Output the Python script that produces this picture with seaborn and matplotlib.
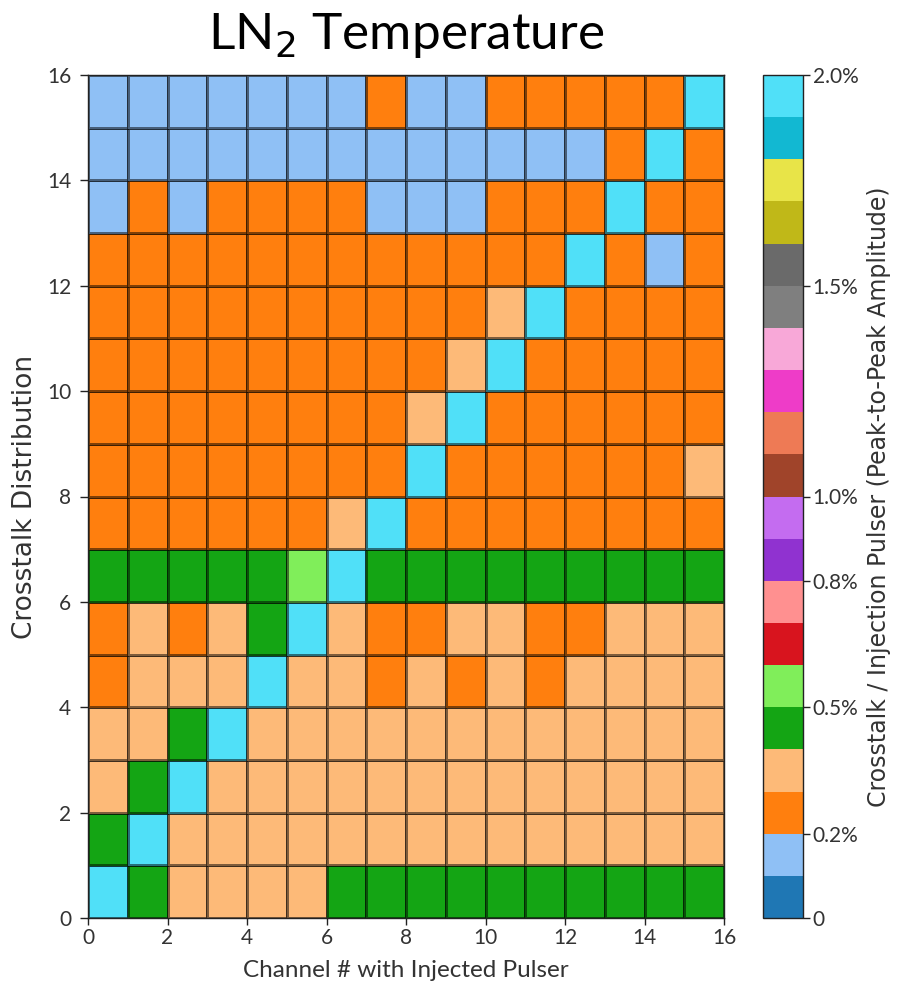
import numpy as np
import pandas as pd
import matplotlib
matplotlib.use("Agg")
import matplotlib.pyplot as plt
from matplotlib.colors import ListedColormap
import seaborn as sns

# Injected channel (x) and crosstalk distribution row (y, 0 at the bottom)
channels = list(range(16))
rows = list(range(16))

# Crosstalk / injection pulser amplitude in percent, one list per distribution row
crosstalk_y00 = [1.95, 0.45, 0.35, 0.35, 0.35, 0.35, 0.45, 0.45, 0.45, 0.45, 0.45, 0.45, 0.45, 0.45, 0.45, 0.45]
crosstalk_y01 = [0.45, 1.95, 0.35, 0.35, 0.35, 0.35, 0.35, 0.35, 0.35, 0.35, 0.35, 0.35, 0.35, 0.35, 0.35, 0.35]
crosstalk_y02 = [0.35, 0.45, 1.95, 0.35, 0.35, 0.35, 0.35, 0.35, 0.35, 0.35, 0.35, 0.35, 0.35, 0.35, 0.35, 0.35]
crosstalk_y03 = [0.35, 0.35, 0.45, 1.95, 0.35, 0.35, 0.35, 0.35, 0.35, 0.35, 0.35, 0.35, 0.35, 0.35, 0.35, 0.35]
crosstalk_y04 = [0.25, 0.35, 0.35, 0.35, 1.95, 0.35, 0.35, 0.25, 0.35, 0.25, 0.35, 0.25, 0.35, 0.35, 0.35, 0.35]
crosstalk_y05 = [0.25, 0.35, 0.25, 0.35, 0.45, 1.95, 0.35, 0.25, 0.25, 0.35, 0.35, 0.25, 0.25, 0.35, 0.35, 0.35]
crosstalk_y06 = [0.45, 0.45, 0.45, 0.45, 0.45, 0.55, 1.95, 0.45, 0.45, 0.45, 0.45, 0.45, 0.45, 0.45, 0.45, 0.45]
crosstalk_y07 = [0.25, 0.25, 0.25, 0.25, 0.25, 0.25, 0.35, 1.95, 0.25, 0.25, 0.25, 0.25, 0.25, 0.25, 0.25, 0.25]
crosstalk_y08 = [0.25, 0.25, 0.25, 0.25, 0.25, 0.25, 0.25, 0.25, 1.95, 0.25, 0.25, 0.25, 0.25, 0.25, 0.25, 0.35]
crosstalk_y09 = [0.25, 0.25, 0.25, 0.25, 0.25, 0.25, 0.25, 0.25, 0.35, 1.95, 0.25, 0.25, 0.25, 0.25, 0.25, 0.25]
crosstalk_y10 = [0.25, 0.25, 0.25, 0.25, 0.25, 0.25, 0.25, 0.25, 0.25, 0.35, 1.95, 0.25, 0.25, 0.25, 0.25, 0.25]
crosstalk_y11 = [0.25, 0.25, 0.25, 0.25, 0.25, 0.25, 0.25, 0.25, 0.25, 0.25, 0.35, 1.95, 0.25, 0.25, 0.25, 0.25]
crosstalk_y12 = [0.25, 0.25, 0.25, 0.25, 0.25, 0.25, 0.25, 0.25, 0.25, 0.25, 0.25, 0.25, 1.95, 0.25, 0.15, 0.25]
crosstalk_y13 = [0.15, 0.25, 0.15, 0.25, 0.25, 0.25, 0.25, 0.15, 0.15, 0.15, 0.25, 0.25, 0.25, 1.95, 0.25, 0.25]
crosstalk_y14 = [0.15, 0.15, 0.15, 0.15, 0.15, 0.15, 0.15, 0.15, 0.15, 0.15, 0.15, 0.15, 0.15, 0.25, 1.95, 0.25]
crosstalk_y15 = [0.15, 0.15, 0.15, 0.15, 0.15, 0.15, 0.15, 0.25, 0.15, 0.15, 0.25, 0.25, 0.25, 0.25, 0.25, 1.95]

# Colour bar ticks and their labels
cbar_ticks = [0.0, 0.2, 0.5, 0.8, 1.0, 1.5, 2.0]
cbar_ticklabels = ["0", "0.2%", "0.5%", "0.8%", "1.0%", "1.5%", "2.0%"]

# 20-step qualitative palette, one colour per 0.1 % band
band_colors = [
    "#1f77b4", "#8fc0f5", "#ff7f0e", "#fdba78", "#14a514",
    "#80ee5a", "#d8141e", "#ff9090", "#9032d0", "#c46cf0",
    "#a0442a", "#ee7a55", "#ee3cc8", "#f8a8d8", "#7f7f7f",
    "#6a6a6a", "#c0b818", "#e8e448", "#12b8d2", "#50e0f8",
]

matrix = np.array([
    crosstalk_y00, crosstalk_y01, crosstalk_y02, crosstalk_y03,
    crosstalk_y04, crosstalk_y05, crosstalk_y06, crosstalk_y07,
    crosstalk_y08, crosstalk_y09, crosstalk_y10, crosstalk_y11,
    crosstalk_y12, crosstalk_y13, crosstalk_y14, crosstalk_y15,
])
df = pd.DataFrame(matrix, index=rows, columns=channels)

cmap = ListedColormap(band_colors)

W, H = 905, 991
fig = plt.figure(figsize=(W / 100, H / 100), dpi=100)
ax = fig.add_axes([88 / W, 1 - 918 / H, (724 - 88) / W, (918 - 75) / H])
cax = fig.add_axes([763 / W, 1 - 918 / H, 40 / W, (918 - 75) / H])

sns.heatmap(
    df, ax=ax, cbar_ax=cax, cmap=cmap, vmin=0.0, vmax=2.0,
    linewidths=0.9, linecolor=(0.0, 0.0, 0.0, 0.5),
    xticklabels=False, yticklabels=False, square=False,
)
# row 0 at the bottom
ax.invert_yaxis()

text_color = "#333333"
tick_font = dict(family="Lato", size=15, color=text_color)
ax.set_xticks(np.arange(0, 17, 2))
ax.set_xticklabels([str(v) for v in range(0, 17, 2)], fontdict=tick_font)
ax.set_yticks(np.arange(0, 17, 2))
ax.set_yticklabels([str(v) for v in range(0, 17, 2)], fontdict=tick_font)
ax.tick_params(axis="x", length=5, width=1, color="#222222", pad=2)
ax.tick_params(axis="y", length=6, width=1, color="#222222", pad=6)
for side in ["left", "right", "top", "bottom"]:
    ax.spines[side].set_visible(True)
    ax.spines[side].set_color("#222222")
    ax.spines[side].set_linewidth(1.0)

ax.set_xlabel("Channel # with Injected Pulser", family="Lato", size=17.5,
              color=text_color, labelpad=9)
ax.set_ylabel("Crosstalk Distribution", family="DejaVu Sans", size=19,
              color=text_color)
ax.yaxis.set_label_coords(-0.078, 0.5)

plt.rcParams["mathtext.fontset"] = "custom"
plt.rcParams["mathtext.rm"] = "Lato"
ax.set_title(r"LN$_\mathrm{2}$ Temperature", family="Lato", size=37, pad=19)

cbar = ax.collections[0].colorbar
cbar.set_ticks(cbar_ticks)
cbar.set_ticklabels(cbar_ticklabels)
cbar.ax.tick_params(length=5, width=1, color="#222222", pad=2)
for t in cbar.ax.get_yticklabels():
    t.set_family("Lato")
    t.set_size(15)
    t.set_color(text_color)
cbar.outline.set_visible(True)
cbar.outline.set_linewidth(1.0)
cbar.outline.set_edgecolor("#222222")
cbar.set_label("Crosstalk / Injection Pulser (Peak-to-Peak Amplitude)",
               family="DejaVu Sans", size=17, color=text_color)
cbar.ax.yaxis.set_label_coords(2.6, 0.5)

fig.savefig("out.png", dpi=100)
